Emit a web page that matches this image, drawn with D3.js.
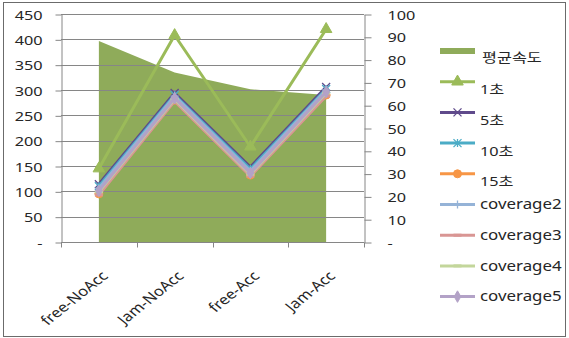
<!DOCTYPE html>
<html>
<head>
<meta charset="utf-8">
<script src="https://cdn.jsdelivr.net/npm/d3@7"></script>
<style>
  html, body { margin: 0; padding: 0; background: #fff; }
  svg { display: block; }
  text { font-family: "Noto Sans", "Noto Sans CJK KR", sans-serif; fill: #262626; }
</style>
</head>
<body>
<svg id="chart" width="569" height="338"></svg>
<script>
// Categories along the bottom axis
const categories = ["free-NoAcc", "Jam-NoAcc", "free-Acc", "Jam-Acc"];

// Average speed (area, right axis)
const avgSpeed = [88.2, 74.3, 67, 64.5];

// Line series (left axis)
const sec1  = [145, 408, 188, 420];
const sec5  = [114, 294, 148, 306];
const sec10 = [110, 290, 144, 302];
const sec15 = [95, 280, 132, 290];
const coverage2 = [106, 288, 140, 300];
const coverage3 = [93, 278, 130, 288];
const coverage4 = [99, 282, 134, 294];
const coverage5 = [101, 284, 136, 296];

// Axis tick values
const leftTicks  = [0, 50, 100, 150, 200, 250, 300, 350, 400, 450];
const rightTicks = [0, 10, 20, 30, 40, 50, 60, 70, 80, 90, 100];

const areaName = "평균속도";
const lineNames = ["1초", "5초", "10초", "15초", "coverage2", "coverage3", "coverage4", "coverage5"];
const lineValues = [sec1, sec5, sec10, sec15, coverage2, coverage3, coverage4, coverage5];
const lineColors = ["#9bbb59", "#5f4a8b", "#4bacc6", "#f79646", "#95b3d7", "#d99694", "#c3d69b", "#b3a2c7"];
const lineMarkers = ["triangle", "x", "star", "circle", "plus", "dash", "dash", "diamond"];

const svg = d3.select("#chart");
const STRETCH = 1.25;   // horizontal text stretch

const plot = { left: 61, right: 364, top: 14, bottom: 242 };
const x = d3.scaleBand().domain(categories).range([plot.left, plot.right]);
const cx = d => x(d) + x.bandwidth() / 2;
const yL = d3.scaleLinear().domain([0, 450]).range([plot.bottom, plot.top]);
const yR = d3.scaleLinear().domain([0, 100]).range([plot.bottom, plot.top]);

// Outer frame
svg.append("rect").attr("x", 3.5).attr("y", 2.5).attr("width", 562).attr("height", 334)
  .attr("fill", "#fff").attr("stroke", "#6b6b6b").attr("stroke-width", 1);

const axisColor = "#868686";

// Average speed area
const area = d3.area().x((d, i) => cx(categories[i])).y0(yR(0)).y1(d => yR(d));
svg.append("path").datum(avgSpeed).attr("d", area).attr("fill", "#8fab5a");

// Horizontal gridlines
svg.append("g").selectAll("line").data(leftTicks.filter(d => d > 0)).join("line")
  .attr("x1", plot.left).attr("x2", plot.right)
  .attr("y1", d => Math.round(yL(d)) + 0.5).attr("y2", d => Math.round(yL(d)) + 0.5)
  .attr("stroke", axisColor).attr("stroke-width", 1);

// Left axis
const fmt = d => d === 0 ? "-" : d;
const gL = svg.append("g").attr("transform", `translate(${plot.left + 0.5},0.5)`)
  .call(d3.axisLeft(yL).tickValues(leftTicks).tickSize(6).tickSizeOuter(0).tickFormat(fmt));
gL.selectAll("path.domain, line").attr("stroke", axisColor);
gL.selectAll("text").attr("x", 0).attr("dy", "0.35em")
  .attr("transform", `translate(-19,0) scale(${STRETCH},1)`)
  .style("font-size", "13px").attr("fill", "#262626");

// Right axis
const gR = svg.append("g").attr("transform", `translate(${plot.right + 0.5},0.5)`)
  .call(d3.axisRight(yR).tickValues(rightTicks).tickSize(7).tickSizeOuter(0).tickFormat(fmt));
gR.selectAll("path.domain, line").attr("stroke", axisColor);
gR.selectAll("text").attr("x", 0).attr("dy", "0.35em")
  .attr("transform", `translate(23,0) scale(${STRETCH},1)`)
  .style("font-size", "13px").attr("fill", "#262626");

// Bottom axis
const gB = svg.append("g").attr("transform", `translate(0,${plot.bottom + 0.5})`);
gB.append("line").attr("x1", plot.left).attr("x2", plot.right).attr("stroke", axisColor);
const bounds = categories.map(c => x(c)).concat([plot.right]);
gB.selectAll("line.tick").data(bounds).join("line").attr("class", "tick")
  .attr("x1", d => Math.round(d) + 0.5).attr("x2", d => Math.round(d) + 0.5)
  .attr("y1", 0).attr("y2", 5).attr("stroke", axisColor);
gB.selectAll("text").data(categories).join("text")
  .attr("text-anchor", "end").attr("dy", "0.35em")
  .attr("transform", d => `translate(${cx(d) + 6},${31}) scale(${STRETCH},1) rotate(-45)`)
  .style("font-size", "13.5px").text(d => d);

// Marker drawing
function drawMarker(g, type, color, size) {
  const s = size;
  if (type === "triangle") {
    g.append("path").attr("d", d3.symbol(d3.symbolTriangle, s * s * 0.9)())
      .attr("fill", color).attr("stroke", color);
  } else if (type === "x") {
    g.append("path").attr("d", `M${-s/2},${-s/2}L${s/2},${s/2}M${-s/2},${s/2}L${s/2},${-s/2}`)
      .attr("stroke", color).attr("stroke-width", 1.3).attr("fill", "none");
  } else if (type === "star") {
    g.append("path").attr("d", `M${-s/2},${-s/2}L${s/2},${s/2}M${-s/2},${s/2}L${s/2},${-s/2}M0,${-s/2}L0,${s/2}`)
      .attr("stroke", color).attr("stroke-width", 1.3).attr("fill", "none");
  } else if (type === "circle") {
    g.append("circle").attr("r", s / 2).attr("fill", color).attr("stroke", color);
  } else if (type === "plus") {
    g.append("path").attr("d", `M${-s/2},0L${s/2},0M0,${-s/2}L0,${s/2}`)
      .attr("stroke", color).attr("stroke-width", 1.3).attr("fill", "none");
  } else if (type === "dash") {
    g.append("path").attr("d", `M${-s/2},0L${s/2},0`)
      .attr("stroke", color).attr("stroke-width", 3).attr("fill", "none");
  } else if (type === "diamond") {
    g.append("path").attr("d", d3.symbol(d3.symbolDiamond, s * s * 0.6)())
      .attr("fill", color).attr("stroke", color);
  }
}

// Line series
const line = d3.line().x((d, i) => cx(categories[i])).y(d => yL(d));
lineValues.forEach((vals, k) => {
  const g = svg.append("g");
  g.append("path").datum(vals).attr("d", line).attr("fill", "none")
    .attr("stroke", lineColors[k]).attr("stroke-width", 3).attr("stroke-linejoin", "round");
  vals.forEach((v, i) => {
    const m = g.append("g").attr("transform", `translate(${cx(categories[i])},${yL(v)})`);
    drawMarker(m, lineMarkers[k], lineColors[k], 8);
  });
});

// Legend
const legend = svg.append("g");
const lx0 = 440, lx1 = 475, ly0 = 51, lstep = 30.7;
legend.append("rect").attr("x", lx0).attr("y", ly0 - 3).attr("width", lx1 - lx0).attr("height", 6)
  .attr("fill", "#8fab5a");
legend.append("text").attr("dy", "0.35em")
  .attr("transform", `translate(482,${ly0 + 6}) scale(${STRETCH},1)`)
  .style("font-size", "13px").text(areaName);
lineNames.forEach((name, k) => {
  const y = ly0 + (k + 1) * lstep;
  legend.append("line").attr("x1", lx0).attr("x2", lx1).attr("y1", y).attr("y2", y)
    .attr("stroke", lineColors[k]).attr("stroke-width", 3);
  const m = legend.append("g").attr("transform", `translate(${(lx0 + lx1) / 2},${y})`);
  drawMarker(m, lineMarkers[k], lineColors[k], 8);
  const korean = /[\uAC00-\uD7A3]/.test(name);
  legend.append("text").attr("dy", "0.35em")
    .attr("transform", `translate(480,${y + (korean ? 8 : 0)}) scale(${STRETCH},1)`)
    .style("font-size", korean ? "13px" : "13.5px").text(name);
});
</script>
</body>
</html>
